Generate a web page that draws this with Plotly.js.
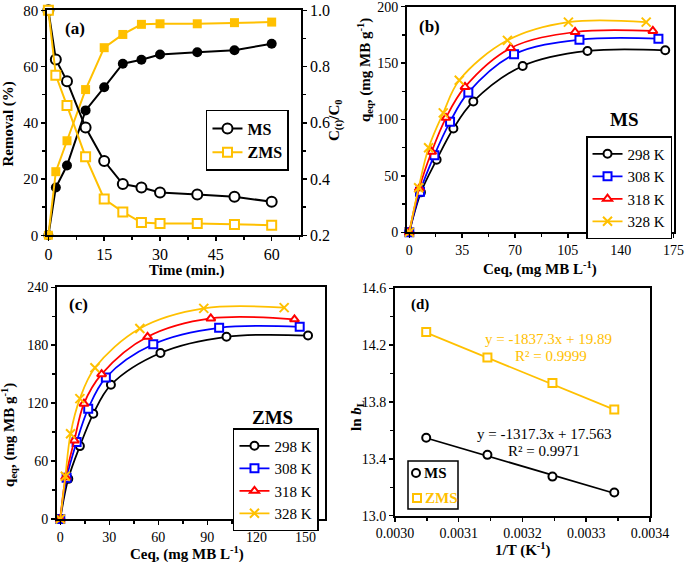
<!DOCTYPE html>
<html>
<head>
<meta charset="utf-8">
<script src="https://cdn.plot.ly/plotly-3.0.1.min.js"></script>
<style>
  html, body { margin: 0; padding: 0; background: #fff; }
  #chart { width: 685px; height: 562px; }
</style>
</head>
<body>
<div id="chart"></div>
<script>
// (a) kinetics
const timeMin = [0, 2, 5, 10, 15, 20, 25, 30, 40, 50, 60];
const removalMS = [0, 17, 24.8, 44.4, 52.6, 61, 62.4, 64.3, 65.1, 65.8, 68.1];
const removalZMS = [0, 22.6, 33.6, 51.8, 66.7, 71.4, 75, 75.2, 75.2, 75.6, 75.8];
const ratioMS = [1.0, 0.825, 0.748, 0.583, 0.464, 0.382, 0.370, 0.352, 0.345, 0.337, 0.319];
const ratioZMS = [1.0, 0.769, 0.661, 0.479, 0.329, 0.283, 0.245, 0.242, 0.242, 0.238, 0.236];

// (b) MS isotherms
const ceqMS298 = [0, 7.7, 18.1, 29.2, 42.4, 75.1, 118, 169.5];
const qMS298 = [0, 35.4, 64.3, 92, 116, 147.5, 160.8, 161.4];
const ceqMS308 = [0, 7.1, 16.6, 27, 39.1, 69.4, 112.7, 165];
const qMS308 = [0, 36, 68.4, 97.9, 124, 157.8, 170.8, 171.7];
const ceqMS318 = [0, 6.6, 14.8, 24.3, 36.9, 67.2, 109.8, 161.3];
const qMS318 = [0, 39, 71.4, 101.5, 128.9, 163.4, 177.6, 178.5];
const ceqMS328 = [0, 6.2, 12.8, 22.5, 33.1, 65, 105.4, 156.9];
const qMS328 = [0, 39.5, 74.9, 105.9, 134.8, 170.2, 186.4, 186.4];

// (c) ZMS isotherms
const ceqZMS298 = [0, 4.9, 12, 20.2, 31, 61.3, 101.7, 151.6];
const qZMS298 = [0, 41.6, 75.5, 109, 139, 172, 188.7, 190];
const ceqZMS308 = [0, 3.9, 10, 17.1, 27.9, 56.9, 97.2, 146.5];
const qZMS308 = [0, 42.6, 79.7, 114.3, 146.5, 181, 198, 199];
const ceqZMS318 = [0, 3.3, 8.6, 14.5, 25.3, 53.4, 92.1, 143.3];
const qZMS318 = [0, 43.3, 81.4, 119.5, 150, 188.7, 207.8, 206.8];
const ceqZMS328 = [0, 3.1, 6.3, 12, 21.2, 48.7, 87.8, 137];
const qZMS328 = [0, 44.3, 88.3, 124.7, 156.6, 197.4, 218.2, 218.9];

// (d) van't Hoff
const invT = [0.003049, 0.003145, 0.003247, 0.003344];
const lnbMS = [13.549, 13.428, 13.275, 13.163];
const lnbZMS = [14.292, 14.114, 13.934, 13.747];
const fitMS = { slope: -1317.3, intercept: 17.563, r2: '0.9971' };
const fitZMS = { slope: -1837.3, intercept: 19.89, r2: '0.9999' };

const tempLabels = ['298 K', '308 K', '318 K', '328 K'];

const FONT = 'Times New Roman, Liberation Serif, DejaVu Serif, serif';
const BLACK = '#000000';
const BLUE = '#0000FF';
const RED = '#FF0000';
const GOLD = '#FFC000';
const W = 685, H = 562;

function openMarker(symbol, color, size) {
    return { symbol: symbol, size: size, color: '#ffffff', line: { color: color, width: 2 } };
}

const traces = [];

// panel (a)
traces.push({
    x: timeMin, y: removalMS, xaxis: 'x', yaxis: 'y', mode: 'lines+markers',
    line: { color: BLACK, width: 2 }, marker: { symbol: 'circle', size: 10, color: BLACK },
    showlegend: false, cliponaxis: false
});
traces.push({
    x: timeMin, y: removalZMS, xaxis: 'x', yaxis: 'y', mode: 'lines+markers',
    line: { color: GOLD, width: 2 }, marker: { symbol: 'square', size: 9, color: GOLD },
    showlegend: false, cliponaxis: false
});
traces.push({
    x: timeMin, y: ratioMS, xaxis: 'x', yaxis: 'y2', mode: 'lines+markers', name: '<b>MS</b>',
    line: { color: BLACK, width: 2 }, marker: openMarker('circle', BLACK, 10),
    legend: 'legend', cliponaxis: false
});
traces.push({
    x: timeMin, y: ratioZMS, xaxis: 'x', yaxis: 'y2', mode: 'lines+markers', name: '<b>ZMS</b>',
    line: { color: GOLD, width: 2 }, marker: openMarker('square', GOLD, 9),
    legend: 'legend', cliponaxis: false
});

// panels (b) and (c)
const isoStyles = [
    { color: BLACK, marker: openMarker('circle', BLACK, 8) },
    { color: BLUE, marker: openMarker('square', BLUE, 8) },
    { color: RED, marker: openMarker('triangle-up', RED, 8) },
    { color: GOLD, marker: { symbol: 'x-thin', size: 9, color: GOLD, line: { color: GOLD, width: 2 } } }
];
const msSets = [[ceqMS298, qMS298], [ceqMS308, qMS308], [ceqMS318, qMS318], [ceqMS328, qMS328]];
const zmsSets = [[ceqZMS298, qZMS298], [ceqZMS308, qZMS308], [ceqZMS318, qZMS318], [ceqZMS328, qZMS328]];

msSets.forEach(function(set, i) {
    traces.push({
        x: set[0], y: set[1], xaxis: 'x2', yaxis: 'y3', mode: 'lines+markers', name: tempLabels[i],
        line: { color: isoStyles[i].color, width: 1.75, shape: 'spline', smoothing: 1 },
        marker: isoStyles[i].marker, legend: 'legend2', cliponaxis: false
    });
});
zmsSets.forEach(function(set, i) {
    traces.push({
        x: set[0], y: set[1], xaxis: 'x3', yaxis: 'y4', mode: 'lines+markers', name: tempLabels[i],
        line: { color: isoStyles[i].color, width: 1.75, shape: 'spline', smoothing: 1 },
        marker: isoStyles[i].marker, legend: 'legend3', cliponaxis: false
    });
});

// panel (d) - trend lines from the fit coefficients
function trend(fit) {
    const xs = [invT[0], invT[invT.length - 1]];
    return { x: xs, y: xs.map(function(v) { return fit.slope * v + fit.intercept; }) };
}
const tMS = trend(fitMS);
const tZMS = trend(fitZMS);
traces.push({ x: tMS.x, y: tMS.y, xaxis: 'x4', yaxis: 'y5', mode: 'lines',
    line: { color: BLACK, width: 1.75 }, showlegend: false });
traces.push({ x: tZMS.x, y: tZMS.y, xaxis: 'x4', yaxis: 'y5', mode: 'lines',
    line: { color: GOLD, width: 1.75 }, showlegend: false });
traces.push({ x: invT, y: lnbMS, xaxis: 'x4', yaxis: 'y5', mode: 'markers',
    marker: openMarker('circle', BLACK, 8), showlegend: false, cliponaxis: false });
traces.push({ x: invT, y: lnbZMS, xaxis: 'x4', yaxis: 'y5', mode: 'markers',
    marker: openMarker('square', GOLD, 8), showlegend: false, cliponaxis: false });

function axis(extra) {
    const base = {
        showline: true, linecolor: BLACK, linewidth: 2, mirror: true,
        showgrid: false, zeroline: false,
        ticks: 'outside', ticklen: 4, tickwidth: 1.5, tickcolor: BLACK,
        ticklabeloverflow: 'allow',
        tickfont: { family: FONT, size: 14, color: BLACK }
    };
    return Object.assign(base, extra);
}
const bigTicks = { family: FONT, size: 16, color: BLACK };
function minor(d) {
    return { dtick: d, ticks: 'outside', ticklen: 3, tickwidth: 1.5, tickcolor: BLACK, showgrid: false };
}
function legendBox(x, y, size) {
    return {
        x: x, y: y, xanchor: 'left', yanchor: 'top',
        bgcolor: '#ffffff', bordercolor: BLACK, borderwidth: 1.5,
        font: { family: FONT, size: size, color: BLACK }, tracegroupgap: 0
    };
}
function note(text, x, y, size, opts) {
    return Object.assign({
        text: text, x: x, y: y, xref: 'paper', yref: 'paper', showarrow: false,
        xanchor: 'center', yanchor: 'middle',
        font: { family: FONT, size: size, color: BLACK }
    }, opts || {});
}

// small hand-made key for panel (d), placed in pixels of the figure
function px(x) { return x / W; }
function py(y) { return 1 - y / H; }
function keySymbol(type, cx, cy, color) {
    return {
        type: type, xref: 'paper', yref: 'paper', xsizemode: 'pixel', ysizemode: 'pixel',
        xanchor: px(cx), yanchor: py(cy), x0: -4, x1: 4, y0: -4, y1: 4,
        line: { color: color, width: 2 }, fillcolor: '#ffffff'
    };
}
const shapes = [
    { type: 'rect', xref: 'paper', yref: 'paper', x0: px(408), x1: px(458), y0: py(509), y1: py(461),
      line: { color: BLACK, width: 1.5 }, fillcolor: '#ffffff' },
    keySymbol('circle', 416, 473, BLACK),
    keySymbol('rect', 417, 498, GOLD)
];

const layout = {
    width: W, height: H,
    margin: { l: 0, r: 0, t: 0, b: 0 },
    paper_bgcolor: '#ffffff', plot_bgcolor: '#ffffff',
    showlegend: true,
    font: { family: FONT, color: BLACK },

    xaxis: axis({ domain: [0.0690, 0.4390], range: [-0.3, 67.8], anchor: 'y',
        tick0: 0, dtick: 15, minor: minor(7.5), tickfont: bigTicks }),
    yaxis: axis({ domain: [0.5814, 0.9817], range: [0, 80], anchor: 'x', mirror: false,
        tickmode: 'array', tickvals: [0, 20, 40, 60, 80], ticktext: ['0', '20', '40', '60', '80'],
        minor: minor(10), tickfont: { family: FONT, size: 15, color: BLACK } }),
    yaxis2: axis({ overlaying: 'y', side: 'right', anchor: 'x', range: [0.2, 1.0], mirror: false,
        tickmode: 'array', tickvals: [0.2, 0.4, 0.6, 0.8, 1.0], ticktext: ['0.2', '0.4', '0.6', '0.8', '1.0'],
        minor: minor(0.1), tickfont: bigTicks }),

    xaxis2: axis({ domain: [0.5942, 0.9839], range: [-1.5, 175.3], anchor: 'y3',
        tick0: 0, dtick: 35, minor: minor(17.5) }),
    yaxis3: axis({ domain: [0.5867, 0.9880], range: [0, 200], anchor: 'x2',
        tick0: 0, dtick: 50, minor: minor(25) }),

    xaxis3: axis({ domain: [0.0832, 0.4745], range: [-2, 162], anchor: 'y4',
        tick0: 0, dtick: 30, minor: minor(15) }),
    yaxis4: axis({ domain: [0.0765, 0.4888], range: [0, 240], anchor: 'x3',
        tick0: 0, dtick: 60, minor: minor(30) }),

    xaxis4: axis({ domain: [0.5766, 0.9489], range: [0.0030, 0.0034], anchor: 'y5',
        tick0: 0.0030, dtick: 0.0001, tickformat: '.4f', minor: minor(0.00005) }),
    yaxis5: axis({ domain: [0.0824, 0.4870], range: [13.0, 14.6], anchor: 'x4',
        tick0: 13.0, dtick: 0.4, tickformat: '.1f', minor: minor(0.2) }),

    legend: legendBox(0.3007, 0.8043, 16),
    legend2: legendBox(0.8555, 0.7580, 15),
    legend3: legendBox(0.3401, 0.2384, 15),

    shapes: shapes,

    annotations: [
        // axis titles
        note('<b>Removal (%)</b>', 0.0125, 0.7794, 15, { textangle: -90 }),
        note('<b>C<sub>(t)</sub>/C<sub>0</sub></b>', 0.4905, 0.7865, 15, { textangle: -90 }),
        note('<b>Time (min.)</b>', 0.273, 0.519, 15),
        note('<b>q<sub>eq</sub>, (mg MB g<sup>-1</sup>)</b>', 0.5328, 0.8754, 15, { textangle: -90 }),
        note('<b>Ceq, (mg MB L<sup>-1</sup>)</b>', 0.7883, 0.5231, 15),
        note('<b>q<sub>eq</sub>, (mg MB g<sup>-1</sup>)</b>', 0.0131, 0.226, 15, { textangle: -90 }),
        note('<b>Ceq, (mg MB L<sup>-1</sup>)</b>', 0.273, 0.016, 15),
        note('<b>ln <i>b</i><sub>L</sub></b>', 0.5212, 0.2598, 15, { textangle: -90 }),
        note('<b>1/T (K<sup>-1</sup>)</b>', 0.7635, 0.022, 15),
        // panel labels
        note('<b>(a)</b>', 0.1095, 0.9500, 17),
        note('<b>(b)</b>', 0.6277, 0.9530, 17),
        note('<b>(c)</b>', 0.1139, 0.4573, 17),
        note('<b>(d)</b>', 0.6131, 0.4573, 15),
        note('<b>MS</b>', 0.9124, 0.7865, 19),
        note('<b>ZMS</b>', 0.3971, 0.258, 19),
        // fit equations
        note('y = ' + fitZMS.slope + 'x + ' + fitZMS.intercept, 0.800, 0.3968, 15,
            { font: { family: FONT, size: 15, color: GOLD } }),
        note('R² = ' + fitZMS.r2, 0.8044, 0.3665, 15,
            { font: { family: FONT, size: 15, color: GOLD } }),
        note('y = ' + fitMS.slope + 'x + ' + fitMS.intercept, 0.7942, 0.2278, 15),
        note('R² = ' + fitMS.r2, 0.7942, 0.1975, 15),
        // panel (d) key text
        note('<b>MS</b>', px(422), py(473), 15, { xanchor: 'left' }),
        note('<b>ZMS</b>', px(423), py(498), 15, { xanchor: 'left',
            font: { family: FONT, size: 15, color: GOLD } })
    ]
};

Plotly.newPlot('chart', traces, layout, { staticPlot: true });
</script>
</body>
</html>
